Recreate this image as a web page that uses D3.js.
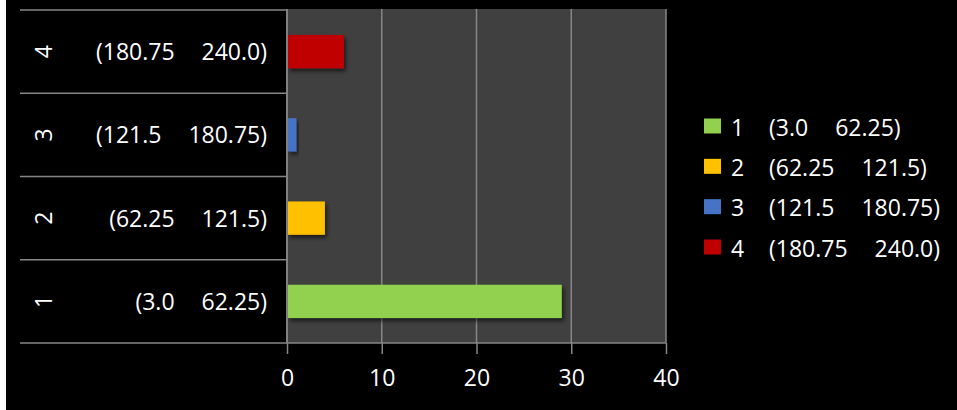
<!DOCTYPE html>
<html>
<head>
<meta charset="utf-8">
<script src="https://cdn.jsdelivr.net/npm/d3@7"></script>
<style>
  html, body { margin: 0; padding: 0; background: #000; }
  svg { display: block; }
  text { font-family: "Open Sans", "Liberation Sans", sans-serif; fill: #fff; }
</style>
</head>
<body>
<svg id="chart" width="957" height="410"></svg>
<script>
// ---- data ----
const binIds = ["1", "2", "3", "4"];
const binStarts = ["(3.0", "(62.25", "(121.5", "(180.75"];
const binEnds = ["62.25)", "121.5)", "180.75)", "240.0)"];
const counts = [29, 4, 1, 6];
const colors = ["#92D050", "#FFC000", "#4673C6", "#C00000"];
const xTicks = [0, 10, 20, 30, 40];

// ---- layout ----
const W = 957, H = 410;
const plot = { left: 287, right: 666, top: 10, bottom: 343 };
const tableLeft = 20;
const fontSize = 23;
const gap = 27;

const svg = d3.select("#chart");

// white left strip of the image border
svg.append("rect").attr("x", 0).attr("y", 0).attr("width", 6).attr("height", H).attr("fill", "#fff");

const defs = svg.append("defs");
const f = defs.append("filter").attr("id", "shadow").attr("x", "-10%").attr("y", "-30%").attr("width", "130%").attr("height", "180%");
f.append("feDropShadow").attr("dx", 2).attr("dy", 3).attr("stdDeviation", 2).attr("flood-color", "#000").attr("flood-opacity", 0.6);

const x = d3.scaleLinear().domain([0, 40]).range([plot.left, plot.right]);
const order = binIds.slice().reverse(); // 4 at top
const rows = d3.scaleBand().domain(order).range([plot.top, plot.bottom]).padding(0);
const bars = d3.scaleBand().domain(order).range([plot.top, plot.bottom]).paddingInner(0.6).paddingOuter(0.3);

// plot background
svg.append("rect")
  .attr("x", plot.left).attr("y", plot.top - 1)
  .attr("width", plot.right - plot.left).attr("height", plot.bottom - plot.top + 1)
  .attr("fill", "#404040");

// gridlines
svg.append("g").selectAll("line").data(xTicks).join("line")
  .attr("x1", d => x(d)).attr("x2", d => x(d))
  .attr("y1", plot.top - 1).attr("y2", plot.bottom)
  .attr("stroke", "#868686").attr("stroke-width", 1.5);

// bars
const data = binIds.map((id, i) => ({ id, v: counts[i], c: colors[i], s: binStarts[i], e: binEnds[i] }));
svg.append("g").selectAll("rect").data(data).join("rect")
  .attr("x", x(0) + 1)
  .attr("y", d => bars(d.id))
  .attr("width", d => x(d.v) - x(0) - 1)
  .attr("height", bars.bandwidth())
  .attr("fill", d => d.c)
  .attr("filter", "url(#shadow)");

// x axis
const xAxis = d3.axisBottom(x).tickValues(xTicks).tickSize(11).tickPadding(8).tickFormat(d3.format("d"));
const gx = svg.append("g").attr("transform", `translate(0,${plot.bottom})`).call(xAxis);
gx.select(".domain").attr("stroke", "#868686").attr("stroke-width", 1.5).attr("d", `M${plot.left},0H${plot.right}`);
gx.selectAll(".tick line").attr("stroke", "#868686").attr("stroke-width", 1.5);
gx.selectAll(".tick text").attr("fill", "#fff").attr("font-size", fontSize)
  .attr("font-family", "'Open Sans', sans-serif").attr("dy", null).attr("y", 43);

// category table lines
const tbl = svg.append("g");
const bounds = order.map(d => rows(d)).concat([plot.bottom]);
tbl.selectAll("line.h").data(bounds).join("line")
  .attr("x1", tableLeft).attr("x2", plot.left)
  .attr("y1", d => d).attr("y2", d => d)
  .attr("stroke", "#868686").attr("stroke-width", 1.5);
tbl.append("line").attr("x1", plot.left).attr("x2", plot.left)
  .attr("y1", plot.top - 1).attr("y2", plot.bottom)
  .attr("stroke", "#868686").attr("stroke-width", 1.5);

// category labels (inner level: ranges)
const cat = svg.append("g").selectAll("text.range").data(data).join("text")
  .attr("x", 267)
  .attr("y", d => rows(d.id) + rows.bandwidth() / 2 + 8.5)
  .attr("text-anchor", "end")
  .attr("font-size", fontSize);
cat.append("tspan").text(d => d.s);
cat.append("tspan").attr("dx", gap).text(d => d.e);

// outer level: rotated ids
svg.append("g").selectAll("text.id").data(data).join("text")
  .attr("transform", d => `translate(43,${rows(d.id) + rows.bandwidth() / 2}) rotate(-90)`)
  .attr("text-anchor", "middle")
  .attr("dominant-baseline", "central")
  .attr("font-size", fontSize)
  .text(d => d.id);

// legend
const legY = d3.scalePoint().domain(binIds).range([126, 247]);
const leg = svg.append("g").selectAll("g").data(data).join("g")
  .attr("transform", d => `translate(0,${legY(d.id)})`);
leg.append("rect").attr("x", 704).attr("y", -7.5).attr("width", 17).attr("height", 15).attr("fill", d => d.c);
leg.append("text").attr("x", 731).attr("y", 9.5).attr("font-size", fontSize).text(d => d.id);
const lt = leg.append("text").attr("x", 769).attr("y", 9.5).attr("font-size", fontSize);
lt.append("tspan").text(d => d.s);
lt.append("tspan").attr("dx", gap).text(d => d.e);
</script>
</body>
</html>
